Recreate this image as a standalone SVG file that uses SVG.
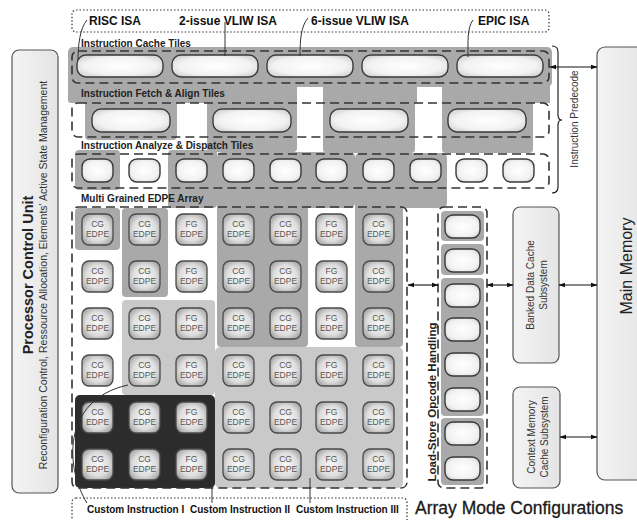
<svg xmlns="http://www.w3.org/2000/svg" width="637" height="520" viewBox="0 0 637 520">
<defs>
<radialGradient id="gTile" cx="50%" cy="50%" r="60%">
<stop offset="0" stop-color="#ffffff"/><stop offset="0.7" stop-color="#f2f2f2"/><stop offset="1" stop-color="#d4d4d4"/>
</radialGradient>
<radialGradient id="gEdpe" cx="50%" cy="50%" r="62%">
<stop offset="0" stop-color="#f7f7f7"/><stop offset="0.6" stop-color="#dedede"/><stop offset="1" stop-color="#9c9c9c"/>
</radialGradient>
<linearGradient id="gBox" x1="0" y1="0" x2="1" y2="0">
<stop offset="0" stop-color="#f4f4f4"/><stop offset="1" stop-color="#e4e4e4"/>
</linearGradient>
<marker id="ah" viewBox="0 0 10 10" refX="9" refY="5" markerWidth="7" markerHeight="7" orient="auto-start-reverse" markerUnits="userSpaceOnUse">
<path d="M0,1.5 L10,5 L0,8.5 z" fill="#111"/>
</marker>
<style>
.t{font-family:"Liberation Sans",Arial,sans-serif;}
.sec{font-family:"Liberation Sans",Arial,sans-serif;font-weight:bold;font-size:10px;fill:#222;}
.isa{font-family:"Liberation Sans",Arial,sans-serif;font-weight:bold;font-size:12px;fill:#111;}
.ci{font-family:"Liberation Sans",Arial,sans-serif;font-weight:bold;font-size:10px;fill:#111;}
.et{font-family:"Liberation Sans",Arial,sans-serif;font-size:8.5px;fill:#555;text-anchor:middle;}
.dash{fill:none;stroke:#333;stroke-width:1.6;stroke-dasharray:9 5;}
.dot{fill:none;stroke:#333;stroke-width:1.2;stroke-dasharray:1.5 2;}
.tile{fill:url(#gTile);stroke:#3a3a3a;stroke-width:1.4;}
.edpe{fill:url(#gEdpe);stroke:#4a4a4a;stroke-width:1.3;}
.g1{fill:#a9a9a9;}
.g2{fill:#c9c9c9;}
.g3{fill:#2c2c2c;}
.box{fill:url(#gBox);stroke:#555;stroke-width:1.2;}
.con{fill:none;stroke:#111;stroke-width:1.1;}
.lead{fill:none;stroke:#333;stroke-width:1;}
</style>
</defs>
<rect width="637" height="520" fill="#ffffff"/>

<!-- gray mapping backgrounds -->
<g id="mapping">
<!-- cache row -->
<rect class="g1" x="68" y="47" width="484" height="40" rx="5"/>
<rect class="g1" x="68" y="80" width="229" height="23" rx="3"/>
<rect class="g1" x="323" y="80" width="94" height="23"/>
<rect class="g1" x="447" y="80" width="103" height="23"/>
<!-- RISC -->
<rect class="g1" x="85" y="100" width="92" height="40" rx="4"/>
<rect class="g1" x="75" y="150" width="45" height="40" rx="4"/>
<rect class="g1" x="75" y="208" width="45" height="42" rx="4"/>
<!-- 2-issue VLIW -->
<rect class="g1" x="207" y="83" width="90" height="69" rx="4"/>
<rect class="g1" x="168" y="150" width="49" height="58" rx="4"/>
<rect class="g1" x="122" y="208" width="46" height="89" rx="4"/>
<!-- 6-issue VLIW -->
<rect class="g1" x="323" y="83" width="92" height="70" rx="4"/>
<rect class="g1" x="217" y="152" width="138" height="56" rx="5"/>
<rect class="g1" x="217" y="200" width="91" height="147" rx="4"/>
<!-- EPIC -->
<rect class="g1" x="442" y="83" width="91" height="70" rx="4"/>
<rect class="g1" x="355" y="153" width="92" height="55" rx="5"/>
<rect class="g1" x="355" y="200" width="48" height="147" rx="4"/>
<!-- custom instructions -->
<rect class="g2" x="122" y="300" width="93" height="95" rx="4"/>
<rect class="g2" x="215" y="347" width="188" height="141" rx="5"/>
<rect class="g3" x="75" y="395" width="140" height="93" rx="5"/>
<!-- load-store backgrounds -->
<rect class="g1" x="441" y="211" width="43" height="30" rx="4"/>
<rect class="g1" x="441" y="244" width="43" height="31" rx="4"/>
<rect class="g1" x="441" y="278" width="43" height="138" rx="4"/>
<rect class="g1" x="441" y="418" width="43" height="67" rx="4"/>
</g>

<!-- ISA labels -->
<g id="isa-labels">
<rect class="dot" x="72" y="10" width="477" height="22" rx="4"/>
<text class="isa" x="89" y="25">RISC ISA</text>
<text class="isa" x="179" y="25">2-issue VLIW ISA</text>
<text class="isa" x="311" y="25">6-issue VLIW ISA</text>
<text class="isa" x="478" y="25">EPIC ISA</text>
</g>

<!-- instruction cache tiles -->
<g id="cache-tiles">
<text class="sec" x="81" y="47">Instruction Cache Tiles</text>
<rect class="dash" x="72" y="51" width="477" height="32" rx="6"/>
<rect class="tile" x="77" y="55" width="86" height="22" rx="9"/>
<rect class="tile" x="172" y="55" width="86" height="22" rx="9"/>
<rect class="tile" x="267" y="55" width="86" height="22" rx="9"/>
<rect class="tile" x="362" y="55" width="86" height="22" rx="9"/>
<rect class="tile" x="457" y="55" width="86" height="22" rx="9"/>
</g>

<!-- fetch tiles -->
<g id="fetch-tiles">
<text class="sec" x="81" y="97">Instruction Fetch &amp; Align Tiles</text>
<rect class="dash" x="72" y="103" width="477" height="34" rx="6"/>
<rect class="tile" x="92" y="109" width="78" height="23" rx="9"/>
<rect class="tile" x="213" y="109" width="78" height="23" rx="9"/>
<rect class="tile" x="330" y="109" width="78" height="23" rx="9"/>
<rect class="tile" x="448" y="109" width="78" height="23" rx="9"/>
</g>

<!-- dispatch tiles -->
<g id="dispatch-tiles">
<text class="sec" x="81" y="149">Instruction Analyze &amp; Dispatch Tiles</text>
<rect class="dash" x="72" y="154" width="477" height="34" rx="6"/>
<rect class="tile" x="82" y="159" width="31" height="23" rx="8"/>
<rect class="tile" x="129" y="159" width="31" height="23" rx="8"/>
<rect class="tile" x="176" y="159" width="31" height="23" rx="8"/>
<rect class="tile" x="223" y="159" width="31" height="23" rx="8"/>
<rect class="tile" x="270" y="159" width="31" height="23" rx="8"/>
<rect class="tile" x="316" y="159" width="31" height="23" rx="8"/>
<rect class="tile" x="363" y="159" width="31" height="23" rx="8"/>
<rect class="tile" x="410" y="159" width="31" height="23" rx="8"/>
<rect class="tile" x="456" y="159" width="31" height="23" rx="8"/>
<rect class="tile" x="503" y="159" width="31" height="23" rx="8"/>
</g>

<!-- EDPE array -->
<g id="edpe-array">
<text class="sec" x="81" y="202">Multi Grained EDPE Array</text>
<rect class="dash" x="72" y="207" width="335" height="281" rx="6"/>
<g id="edpe-tiles">
<g id="col1"><rect class="edpe" x="82" y="214" width="31" height="31" rx="7"/><rect class="edpe" x="82" y="261" width="31" height="31" rx="7"/><rect class="edpe" x="82" y="308" width="31" height="31" rx="7"/><rect class="edpe" x="82" y="355" width="31" height="31" rx="7"/><rect class="edpe" x="82" y="402" width="31" height="31" rx="7"/><rect class="edpe" x="82" y="449" width="31" height="31" rx="7"/></g>
<g id="col2"><rect class="edpe" x="129" y="214" width="31" height="31" rx="7"/><rect class="edpe" x="129" y="261" width="31" height="31" rx="7"/><rect class="edpe" x="129" y="308" width="31" height="31" rx="7"/><rect class="edpe" x="129" y="355" width="31" height="31" rx="7"/><rect class="edpe" x="129" y="402" width="31" height="31" rx="7"/><rect class="edpe" x="129" y="449" width="31" height="31" rx="7"/></g>
<g id="col3"><rect class="edpe" x="176" y="214" width="31" height="31" rx="7"/><rect class="edpe" x="176" y="261" width="31" height="31" rx="7"/><rect class="edpe" x="176" y="308" width="31" height="31" rx="7"/><rect class="edpe" x="176" y="355" width="31" height="31" rx="7"/><rect class="edpe" x="176" y="402" width="31" height="31" rx="7"/><rect class="edpe" x="176" y="449" width="31" height="31" rx="7"/></g>
<g id="col4"><rect class="edpe" x="223" y="214" width="31" height="31" rx="7"/><rect class="edpe" x="223" y="261" width="31" height="31" rx="7"/><rect class="edpe" x="223" y="308" width="31" height="31" rx="7"/><rect class="edpe" x="223" y="355" width="31" height="31" rx="7"/><rect class="edpe" x="223" y="402" width="31" height="31" rx="7"/><rect class="edpe" x="223" y="449" width="31" height="31" rx="7"/></g>
<g id="col5"><rect class="edpe" x="270" y="214" width="31" height="31" rx="7"/><rect class="edpe" x="270" y="261" width="31" height="31" rx="7"/><rect class="edpe" x="270" y="308" width="31" height="31" rx="7"/><rect class="edpe" x="270" y="355" width="31" height="31" rx="7"/><rect class="edpe" x="270" y="402" width="31" height="31" rx="7"/><rect class="edpe" x="270" y="449" width="31" height="31" rx="7"/></g>
<g id="col6"><rect class="edpe" x="316" y="214" width="31" height="31" rx="7"/><rect class="edpe" x="316" y="261" width="31" height="31" rx="7"/><rect class="edpe" x="316" y="308" width="31" height="31" rx="7"/><rect class="edpe" x="316" y="355" width="31" height="31" rx="7"/><rect class="edpe" x="316" y="402" width="31" height="31" rx="7"/><rect class="edpe" x="316" y="449" width="31" height="31" rx="7"/></g>
<g id="col7"><rect class="edpe" x="363" y="214" width="31" height="31" rx="7"/><rect class="edpe" x="363" y="261" width="31" height="31" rx="7"/><rect class="edpe" x="363" y="308" width="31" height="31" rx="7"/><rect class="edpe" x="363" y="355" width="31" height="31" rx="7"/><rect class="edpe" x="363" y="402" width="31" height="31" rx="7"/><rect class="edpe" x="363" y="449" width="31" height="31" rx="7"/></g>
</g>
<g id="edpe-text">
<text class="et" x="97.5" y="227">CG<tspan x="97.5" dy="10">EDPE</tspan></text>
<text class="et" x="97.5" y="274">CG<tspan x="97.5" dy="10">EDPE</tspan></text>
<text class="et" x="97.5" y="321">CG<tspan x="97.5" dy="10">EDPE</tspan></text>
<text class="et" x="97.5" y="368">CG<tspan x="97.5" dy="10">EDPE</tspan></text>
<text class="et" x="97.5" y="415">CG<tspan x="97.5" dy="10">EDPE</tspan></text>
<text class="et" x="97.5" y="462">CG<tspan x="97.5" dy="10">EDPE</tspan></text>
<text class="et" x="144.5" y="227">CG<tspan x="144.5" dy="10">EDPE</tspan></text>
<text class="et" x="144.5" y="274">CG<tspan x="144.5" dy="10">EDPE</tspan></text>
<text class="et" x="144.5" y="321">CG<tspan x="144.5" dy="10">EDPE</tspan></text>
<text class="et" x="144.5" y="368">CG<tspan x="144.5" dy="10">EDPE</tspan></text>
<text class="et" x="144.5" y="415">CG<tspan x="144.5" dy="10">EDPE</tspan></text>
<text class="et" x="144.5" y="462">CG<tspan x="144.5" dy="10">EDPE</tspan></text>
<text class="et" x="191.5" y="227">FG<tspan x="191.5" dy="10">EDPE</tspan></text>
<text class="et" x="191.5" y="274">FG<tspan x="191.5" dy="10">EDPE</tspan></text>
<text class="et" x="191.5" y="321">FG<tspan x="191.5" dy="10">EDPE</tspan></text>
<text class="et" x="191.5" y="368">FG<tspan x="191.5" dy="10">EDPE</tspan></text>
<text class="et" x="191.5" y="415">FG<tspan x="191.5" dy="10">EDPE</tspan></text>
<text class="et" x="191.5" y="462">FG<tspan x="191.5" dy="10">EDPE</tspan></text>
<text class="et" x="238.5" y="227">CG<tspan x="238.5" dy="10">EDPE</tspan></text>
<text class="et" x="238.5" y="274">CG<tspan x="238.5" dy="10">EDPE</tspan></text>
<text class="et" x="238.5" y="321">CG<tspan x="238.5" dy="10">EDPE</tspan></text>
<text class="et" x="238.5" y="368">CG<tspan x="238.5" dy="10">EDPE</tspan></text>
<text class="et" x="238.5" y="415">CG<tspan x="238.5" dy="10">EDPE</tspan></text>
<text class="et" x="238.5" y="462">CG<tspan x="238.5" dy="10">EDPE</tspan></text>
<text class="et" x="285.5" y="227">CG<tspan x="285.5" dy="10">EDPE</tspan></text>
<text class="et" x="285.5" y="274">CG<tspan x="285.5" dy="10">EDPE</tspan></text>
<text class="et" x="285.5" y="321">CG<tspan x="285.5" dy="10">EDPE</tspan></text>
<text class="et" x="285.5" y="368">CG<tspan x="285.5" dy="10">EDPE</tspan></text>
<text class="et" x="285.5" y="415">CG<tspan x="285.5" dy="10">EDPE</tspan></text>
<text class="et" x="285.5" y="462">CG<tspan x="285.5" dy="10">EDPE</tspan></text>
<text class="et" x="331.5" y="227">FG<tspan x="331.5" dy="10">EDPE</tspan></text>
<text class="et" x="331.5" y="274">FG<tspan x="331.5" dy="10">EDPE</tspan></text>
<text class="et" x="331.5" y="321">FG<tspan x="331.5" dy="10">EDPE</tspan></text>
<text class="et" x="331.5" y="368">FG<tspan x="331.5" dy="10">EDPE</tspan></text>
<text class="et" x="331.5" y="415">FG<tspan x="331.5" dy="10">EDPE</tspan></text>
<text class="et" x="331.5" y="462">FG<tspan x="331.5" dy="10">EDPE</tspan></text>
<text class="et" x="378.5" y="227">CG<tspan x="378.5" dy="10">EDPE</tspan></text>
<text class="et" x="378.5" y="274">CG<tspan x="378.5" dy="10">EDPE</tspan></text>
<text class="et" x="378.5" y="321">CG<tspan x="378.5" dy="10">EDPE</tspan></text>
<text class="et" x="378.5" y="368">CG<tspan x="378.5" dy="10">EDPE</tspan></text>
<text class="et" x="378.5" y="415">CG<tspan x="378.5" dy="10">EDPE</tspan></text>
<text class="et" x="378.5" y="462">CG<tspan x="378.5" dy="10">EDPE</tspan></text>
</g>
</g>

<!-- load-store opcode handling -->
<g id="load-store">
<rect class="dash" x="438" y="207" width="49" height="281" rx="6"/>
<rect class="tile" x="445" y="215" width="35" height="23" rx="8"/>
<rect class="tile" x="445" y="249" width="35" height="23" rx="8"/>
<rect class="tile" x="445" y="284" width="35" height="23" rx="8"/>
<rect class="tile" x="445" y="318" width="35" height="23" rx="8"/>
<rect class="tile" x="445" y="353" width="35" height="23" rx="8"/>
<rect class="tile" x="445" y="388" width="35" height="23" rx="8"/>
<rect class="tile" x="445" y="422" width="35" height="23" rx="8"/>
<rect class="tile" x="445" y="457" width="35" height="23" rx="8"/>
<text class="t" transform="translate(436,402) rotate(-90)" text-anchor="middle" font-size="11.5" font-weight="bold" fill="#222">Load-Store Opcode Handling</text>
</g>

<!-- processor control unit -->
<g id="pcu">
<rect class="box" x="12" y="50" width="46" height="443" rx="7"/>
<text class="t" transform="translate(33,275) rotate(-90)" text-anchor="middle" font-size="14.5" font-weight="bold" fill="#222">Processor Control Unit</text>
<text class="t" transform="translate(47,275) rotate(-90)" text-anchor="middle" font-size="10.5" fill="#333">Reconfiguration Control, Ressource Allocation, Elements' Active State Management</text>
</g>

<!-- main memory -->
<g id="main-memory">
<rect class="box" x="597" y="47" width="50" height="433" rx="8"/>
<text class="t" transform="translate(632,266) rotate(-90)" text-anchor="middle" font-size="16" fill="#222">Main Memory</text>
</g>

<!-- banked data cache -->
<g id="banked-cache">
<rect class="box" x="513" y="207" width="46" height="156" rx="7"/>
<text class="t" transform="translate(534,285) rotate(-90)" text-anchor="middle" font-size="10" fill="#333">Banked Data Cache</text>
<text class="t" transform="translate(547,285) rotate(-90)" text-anchor="middle" font-size="10" fill="#333">Subsystem</text>
</g>

<!-- context memory -->
<g id="context-cache">
<rect class="box" x="513" y="387" width="47" height="101" rx="7"/>
<text class="t" transform="translate(535,437) rotate(-90)" text-anchor="middle" font-size="10" fill="#333">Context Memory</text>
<text class="t" transform="translate(548,437) rotate(-90)" text-anchor="middle" font-size="10" fill="#333">Cache Subsystem</text>
</g>

<!-- instruction predecode -->
<g id="predecode">
<path class="con" d="M552,46 Q558,46 558,52 L558,115 Q558,120 562,120 Q558,120 558,125 L558,187 Q558,193 552,193"/>
<text class="t" transform="translate(578,119) rotate(-90)" text-anchor="middle" font-size="10" fill="#333">Instruction Predecode</text>
</g>

<!-- custom instruction labels -->
<g id="custom-labels">
<rect class="dot" x="72" y="498" width="335" height="30" rx="4"/>
<text class="ci" x="87" y="513">Custom Instruction I</text>
<text class="ci" x="190" y="513">Custom Instruction II</text>
<text class="ci" x="296" y="513">Custom Instruction III</text>
</g>

<text id="title" class="t" x="415" y="514" font-size="17.5" fill="#1a1a1a" stroke="#1a1a1a" stroke-width="0.3">Array Mode Configurations</text>

<g id="connectors">
<path class="con" d="M550,67 L597,67" marker-start="url(#ah)" marker-end="url(#ah)"/>
<path class="con" d="M408,285 L438,285" marker-start="url(#ah)" marker-end="url(#ah)"/>
<path class="con" d="M487,285 L513,285" marker-start="url(#ah)" marker-end="url(#ah)"/>
<path class="con" d="M559,285 L597,285" marker-start="url(#ah)" marker-end="url(#ah)"/>
<path class="con" d="M560,437 L597,437" marker-start="url(#ah)" marker-end="url(#ah)"/>
<path class="lead" d="M87,20 C80,28 78,45 78,60"/>
<path class="lead" d="M225,22 L225,56"/>
<path class="lead" d="M308,18 C301,26 300,40 300,56"/>
<path class="lead" d="M473,20 C467,28 468,42 468,57"/>
<path class="lead" d="M87,503 C66,470 60,400 128,385"/>
<path class="lead" d="M212,483 L212,503"/>
<path class="lead" d="M310,478 L310,503"/>
</g>
</svg>
